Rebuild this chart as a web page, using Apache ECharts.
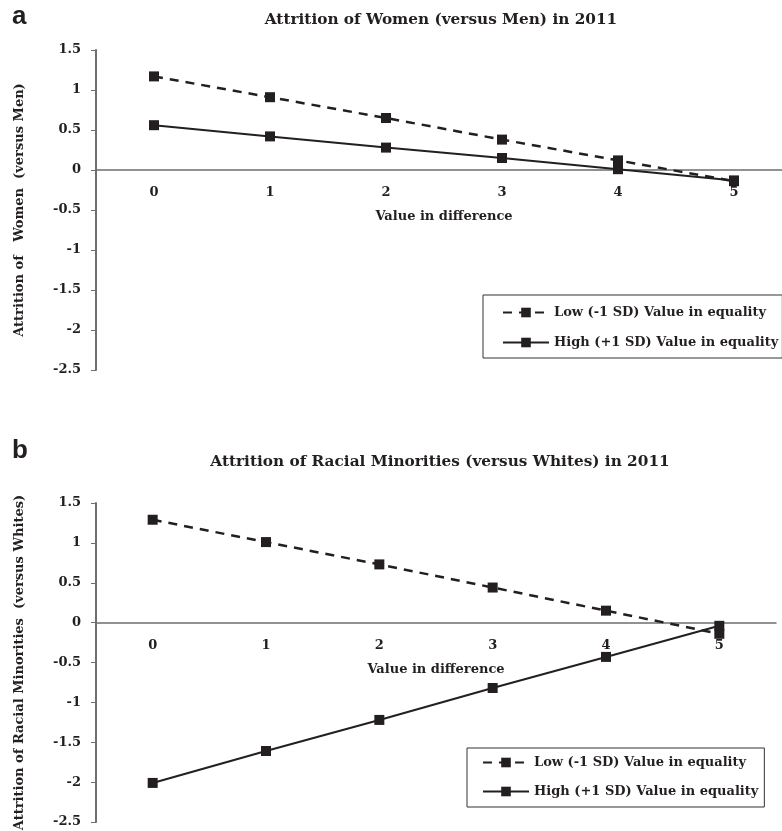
<!DOCTYPE html>
<html>
<head>
<meta charset="utf-8">
<script src="https://cdn.jsdelivr.net/npm/echarts@6/dist/echarts.min.js"></script>
<style>html,body{margin:0;padding:0;background:#fff;}#c{width:782px;height:831px;}</style>
</head>
<body>
<div id="c"></div>
<script>
var categories = ['0', '1', '2', '3', '4', '5'];
var yTicks = [1.5, 1, 0.5, 0, -0.5, -1, -1.5, -2, -2.5];
var lowNameA = 'Low (-1 SD) Value in equality';
var highNameA = 'High (+1 SD) Value in equality';
var womenLow = [1.17, 0.91, 0.65, 0.38, 0.12, -0.14];
var womenHigh = [0.56, 0.42, 0.28, 0.15, 0.01, -0.13];
var minorityLow = [1.29, 1.01, 0.73, 0.44, 0.15, -0.14];
var minorityHigh = [-2.01, -1.61, -1.22, -0.82, -0.43, -0.04];
var titleA = 'Attrition of Women (versus Men) in 2011';
var titleB = 'Attrition of Racial Minorities (versus Whites) in 2011';
var yNameA = 'Attrition of   Women  (versus Men)';
var yNameB = 'Attrition of Racial Minorities  (versus Whites)';
var xName = 'Value in difference';

var INK = '#231f20';
var AX = '#6d6e70';
var SERIF = '"DejaVu Serif", serif';
var Y_MIN = -2.5, Y_MAX = 1.5;

var grids = [
  { left: 96, top: 50, width: 696, height: 320, outerBoundsMode: 'none', containLabel: false },
  { left: 96, top: 503, width: 680, height: 319, outerBoundsMode: 'none', containLabel: false }
];

function zeroOffset(g) {
  // distance from bottom of the grid up to the y=0 line
  return -g.height * (0 - Y_MIN) / (Y_MAX - Y_MIN);
}

function xAxisFor(gi) {
  return {
    type: 'category', gridIndex: gi, data: categories, boundaryGap: true,
    position: 'bottom', offset: zeroOffset(grids[gi]),
    axisLine: { onZero: false, lineStyle: { color: AX, width: 1.5 } },
    axisTick: { alignWithLabel: true, length: 4, lineStyle: { color: AX, width: 1 } },
    axisLabel: { color: INK, fontFamily: SERIF, fontWeight: 'bold', fontSize: 13, margin: 16 },
    name: xName, nameLocation: 'middle', nameGap: 40,
    nameTextStyle: { color: INK, fontFamily: SERIF, fontWeight: 'bold', fontSize: 13 },
    splitLine: { show: false }
  };
}
function yAxisFor(gi, nm) {
  return {
    type: 'value', gridIndex: gi, min: Y_MIN, max: Y_MAX, interval: 0.5,
    axisLine: { show: true, onZero: false, lineStyle: { color: AX, width: 2 } },
    axisTick: { show: true, length: 5, lineStyle: { color: AX, width: 1 } },
    axisLabel: { color: INK, fontFamily: SERIF, fontWeight: 'bold', fontSize: 13, margin: 15 },
    splitLine: { show: false },
    name: nm, nameLocation: 'middle', nameGap: 70,
    nameTextStyle: { color: INK, fontFamily: SERIF, fontWeight: 'bold', fontSize: 13 }
  };
}
function lineSeries(name, data, gi, dashed) {
  return {
    type: 'line', name: name, data: data, xAxisIndex: gi, yAxisIndex: gi,
    symbol: 'rect', symbolSize: 10, showSymbol: true,
    itemStyle: { color: INK },
    lineStyle: { color: INK, width: dashed ? 2.5 : 2, type: dashed ? [9, 7] : 'solid' },
    emphasis: { disabled: true }, animation: false
  };
}
var legendText = { color: INK, fontFamily: SERIF, fontWeight: 'bold', fontSize: 13 };

var chart = echarts.init(document.getElementById('c'), null, { renderer: 'canvas' });
chart.setOption({
  backgroundColor: '#fff',
  animation: false,
  title: [
    { text: titleA, left: 436, textAlign: 'center', top: 8, textStyle: { color: INK, fontFamily: SERIF, fontWeight: 'bold', fontSize: 15.3 } },
    { text: titleB, left: 435, textAlign: 'center', top: 450, textStyle: { color: INK, fontFamily: SERIF, fontWeight: 'bold', fontSize: 15.3 } }
  ],
  graphic: [
    { type: 'text', left: 12, top: 4, style: { text: 'a', font: 'bold 26px "Liberation Sans", Arial, sans-serif', fill: INK } },
    { type: 'text', left: 12, top: 438, style: { text: 'b', font: 'bold 26px "Liberation Sans", Arial, sans-serif', fill: INK } }
  ],
  grid: grids,
  xAxis: [xAxisFor(0), xAxisFor(1)],
  yAxis: [yAxisFor(0, yNameA), yAxisFor(1, yNameB)],
  legend: [
    { orient: 'vertical', left: 483, top: 295, padding: [11, 4, 9, 19], itemGap: 17, itemWidth: 46, itemHeight: 12,
      borderColor: '#333', borderWidth: 1, textStyle: legendText, data: [lowNameA, highNameA], selectedMode: false },
    { orient: 'vertical', left: 467, top: 748, padding: [8, 6, 9, 15], itemGap: 16, itemWidth: 46, itemHeight: 12,
      borderColor: '#333', borderWidth: 1, textStyle: legendText, data: [lowNameA, highNameA], selectedMode: false }
  ],
  series: [
    lineSeries(lowNameA, womenLow, 0, true),
    lineSeries(highNameA, womenHigh, 0, false),
    lineSeries(lowNameA, minorityLow, 1, true),
    lineSeries(highNameA, minorityHigh, 1, false)
  ]
});
</script>
</body>
</html>
